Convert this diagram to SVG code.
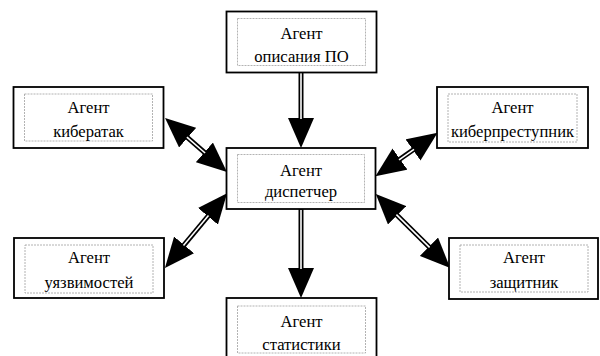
<svg xmlns="http://www.w3.org/2000/svg" width="600" height="356" viewBox="0 0 600 356">
<style>
.outer{fill:#fff;stroke:#000;stroke-width:1.8}
.inner{fill:none;stroke:#a0a0a0;stroke-width:0.8;stroke-dasharray:2 1}
text{font-family:"Liberation Serif","Times New Roman",serif;font-size:16.6px;fill:#000;text-anchor:middle}
.shaft{stroke:#000;stroke-width:5;fill:none}
.core{stroke:#fff;stroke-width:1.6;fill:none}
</style>
<defs>
<marker id="ah" markerUnits="userSpaceOnUse" markerWidth="30" markerHeight="26" viewBox="0 0 30 26" refX="10" refY="13" orient="auto-start-reverse">
<path d="M0,0 L30,13 L0,26 z" fill="#000"/>
</marker>
</defs>
<rect width="600" height="356" fill="#fff"/>
<g id="connectors">
<line class="shaft" x1="301" y1="72" x2="301" y2="128" marker-end="url(#ah)"/>
<line class="core" x1="301" y1="73" x2="301" y2="119"/>
<line class="shaft" x1="301" y1="209" x2="301" y2="278" marker-end="url(#ah)"/>
<line class="core" x1="301" y1="210" x2="301" y2="269"/>
<line class="shaft" x1="180.1" y1="131.1" x2="211.9" y2="158.9" marker-start="url(#ah)" marker-end="url(#ah)"/>
<line class="core" x1="186.9" y1="137.1" x2="205.1" y2="153.0"/>
<line class="shaft" x1="177.7" y1="252.6" x2="214.3" y2="208.6" marker-start="url(#ah)" marker-end="url(#ah)"/>
<line class="core" x1="183.5" y1="245.6" x2="208.5" y2="215.6"/>
<line class="shaft" x1="421.2" y1="144.2" x2="391.8" y2="164.8" marker-start="url(#ah)" marker-end="url(#ah)"/>
<line class="core" x1="414.0" y1="149.3" x2="399.0" y2="159.8"/>
<line class="shaft" x1="390.0" y1="208.2" x2="436.0" y2="253.8" marker-start="url(#ah)" marker-end="url(#ah)"/>
<line class="core" x1="396.4" y1="214.6" x2="429.6" y2="247.4"/>
</g>
<g id="opisanie">
<rect class="outer" x="226.5" y="11.5" width="150" height="61"/>
<rect class="inner" x="237.5" y="18.5" width="128" height="47"/>
<text x="301.5" y="39">Агент</text>
<text x="301.5" y="62">описания ПО</text>
</g>
<g id="kiberatak">
<rect class="outer" x="13.5" y="87" width="150" height="61"/>
<rect class="inner" x="24.5" y="94" width="128" height="47"/>
<text x="88.5" y="113">Агент</text>
<text x="88.5" y="137">кибератак</text>
</g>
<g id="kiberprestupnik">
<rect class="outer" x="437" y="87" width="151" height="61"/>
<rect class="inner" x="448" y="94" width="129" height="48"/>
<text x="512.5" y="113">Агент</text>
<text x="512.5" y="137">киберпреступник</text>
</g>
<g id="dispetcher">
<rect class="outer" x="226.5" y="148" width="149" height="61"/>
<rect class="inner" x="237.5" y="154.5" width="127" height="48"/>
<text x="301" y="176">Агент</text>
<text x="301" y="197">диспетчер</text>
</g>
<g id="uyazvimosti">
<rect class="outer" x="14" y="238" width="150" height="60"/>
<rect class="inner" x="25" y="245" width="128" height="48"/>
<text x="89" y="263">Агент</text>
<text x="89" y="288">уязвимостей</text>
</g>
<g id="zashchitnik">
<rect class="outer" x="449" y="238" width="149" height="61"/>
<rect class="inner" x="460" y="245" width="128" height="47"/>
<text x="524" y="263">Агент</text>
<text x="524" y="288">защитник</text>
</g>
<g id="statistika">
<rect class="outer" x="226.5" y="298" width="150" height="62"/>
<rect class="inner" x="237.5" y="306" width="128" height="47"/>
<text x="301.5" y="327">Агент</text>
<text x="301.5" y="350">статистики</text>
</g>
</svg>
